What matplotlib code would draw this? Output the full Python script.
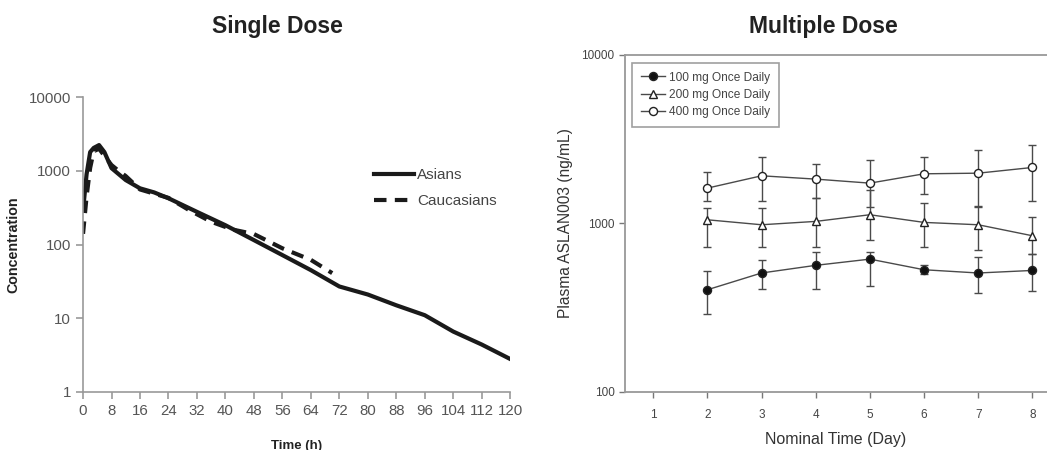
import matplotlib
matplotlib.use("Agg")
import matplotlib.pyplot as plt
from matplotlib.lines import Line2D
import numpy as np

plt.rcParams['font.family'] = ['Liberation Sans', 'DejaVu Sans']

# ---- Single dose data ----
t_asian = [0, 1, 2, 3, 4.5, 6, 8, 12, 16, 20, 24, 32, 40, 48, 56, 64, 72, 80, 88, 96, 104, 112, 120]
c_asian = [290, 900, 1800, 2050, 2240, 1800, 1090, 750, 580, 510, 425, 278, 183, 115, 72, 45, 27, 21, 15, 11, 6.6, 4.4, 2.8]
t_cauc = [0, 1, 2, 3, 4.5, 6, 8, 10, 12, 16, 24, 30, 36, 42, 48, 56, 64, 70]
c_cauc = [140, 450, 1100, 1850, 2000, 1600, 1200, 1000, 850, 560, 430, 290, 204, 160, 139, 89, 62, 41]

# ---- Multiple dose data ----
days = [2, 3, 4, 5, 6, 7, 8]
m100 = [404, 508, 564, 614, 531, 508, 526]
m100_lo = [290, 408, 408, 427, 501, 386, 395]
m100_hi = [519, 609, 673, 673, 564, 631, 661]
m200 = [1051, 982, 1028, 1126, 1014, 982, 845]
m200_lo = [724, 724, 724, 800, 724, 692, 661]
m200_hi = [1233, 1233, 1413, 1585, 1320, 1273, 1090]
m400 = [1620, 1917, 1832, 1734, 1970, 1987, 2148]
m400_lo = [1350, 1350, 1413, 1260, 1493, 1260, 1350]
m400_hi = [2032, 2495, 2248, 2363, 2473, 2734, 2925]

fig = plt.figure(figsize=(10.47, 4.5), dpi=100)

# ---- Left panel ----
ax1 = fig.add_axes([0.0793, 0.129, 0.408, 0.655])
ax1.plot(t_asian, c_asian, color='#1a1a1a', lw=3, label='Asians', solid_joinstyle='round')
ax1.plot(t_cauc, c_cauc, color='#1a1a1a', lw=3, ls=(0, (3, 2)), label='Caucasians')
ax1.set_yscale('log')
ax1.set_ylim(1, 10000)
ax1.set_xlim(0, 120)
ax1.set_xticks(np.arange(0, 121, 8))
ax1.set_yticks([1, 10, 100, 1000, 10000])
ax1.set_yticklabels(['1', '10', '100', '1000', '10000'])
ax1.yaxis.set_minor_locator(matplotlib.ticker.NullLocator())
for s in ['top', 'right']:
    ax1.spines[s].set_visible(False)
for s in ['left', 'bottom']:
    ax1.spines[s].set_color('#999999')
    ax1.spines[s].set_linewidth(1.2)
ax1.tick_params(axis='both', colors='#999999', labelcolor='#555555', labelsize=10.8, length=5, width=1.2)
ax1.set_ylabel('Concentration', fontsize=10.3, fontweight='bold', color='#222222', labelpad=6)
ax1.set_xlabel('Time (h)', fontsize=9.5, fontweight='bold', color='#222222', labelpad=16)
ax1.legend(loc='upper right', bbox_to_anchor=(1.0, 0.805), frameon=False, fontsize=11,
           handlelength=2.6, labelspacing=0.75, handletextpad=0.2, labelcolor='#444444')
fig.text(0.265, 0.94, 'Single Dose', ha='center', va='center', fontsize=16.5, fontweight='bold', color='#222222')

# ---- Right panel ----
ax2 = fig.add_axes([0.597, 0.129, 0.403, 0.749])
col = '#4a4a4a'
handles = []
for y, lo, hi, mk, mfc, lab in [
    (m400, m400_lo, m400_hi, 'o', 'white', '400 mg Once Daily'),
    (m200, m200_lo, m200_hi, '^', 'white', '200 mg Once Daily'),
    (m100, m100_lo, m100_hi, 'o', '#111111', '100 mg Once Daily'),
]:
    y = np.array(y); lo = np.array(lo); hi = np.array(hi)
    ms = 5.8 if mk == 'o' else 5.3
    ax2.errorbar(days, y, yerr=[y - lo, hi - y], color=col, lw=1, marker=mk,
                 mfc=mfc, mec='#222222', ms=ms, capsize=3, capthick=1,
                 elinewidth=1)
    handles.append(Line2D([], [], color=col, lw=1, marker=mk, mfc=mfc, mec='#222222',
                          ms=ms, label=lab))
ax2.set_yscale('log')
ax2.set_ylim(100, 10000)
ax2.set_xlim(0.48, 8.27)
ax2.set_xticks([1, 2, 3, 4, 5, 6, 7, 8])
ax2.set_yticks([100, 1000, 10000])
ax2.set_yticklabels(['100', '1000', '10000'])
ax2.yaxis.set_minor_locator(matplotlib.ticker.NullLocator())
ax2.spines['right'].set_visible(False)
for s in ['left', 'bottom', 'top']:
    ax2.spines[s].set_color('#999999')
    ax2.spines[s].set_linewidth(1.3)
ax2.tick_params(axis='both', colors='#777777', labelcolor='#444444', labelsize=8.5, length=4, width=1)
ax2.tick_params(axis='x', pad=8)
ax2.set_ylabel('Plasma ASLAN003 (ng/mL)', fontsize=11.2, color='#333333', labelpad=6)
ax2.set_xlabel('Nominal Time (Day)', fontsize=11.5, color='#333333', labelpad=8)
leg = ax2.legend(handles=handles[::-1], loc='upper left', bbox_to_anchor=(0.003, 0.993), fontsize=8.6,
                 fancybox=False, edgecolor='#888888', handlelength=2.0, borderpad=0.7,
                 labelspacing=0.45, handletextpad=0.4, labelcolor='#444444')
leg.get_frame().set_linewidth(1.2)
fig.text(0.786, 0.94, 'Multiple Dose', ha='center', va='center', fontsize=16.5, fontweight='bold', color='#222222')

fig.savefig('out.png', dpi=100)
